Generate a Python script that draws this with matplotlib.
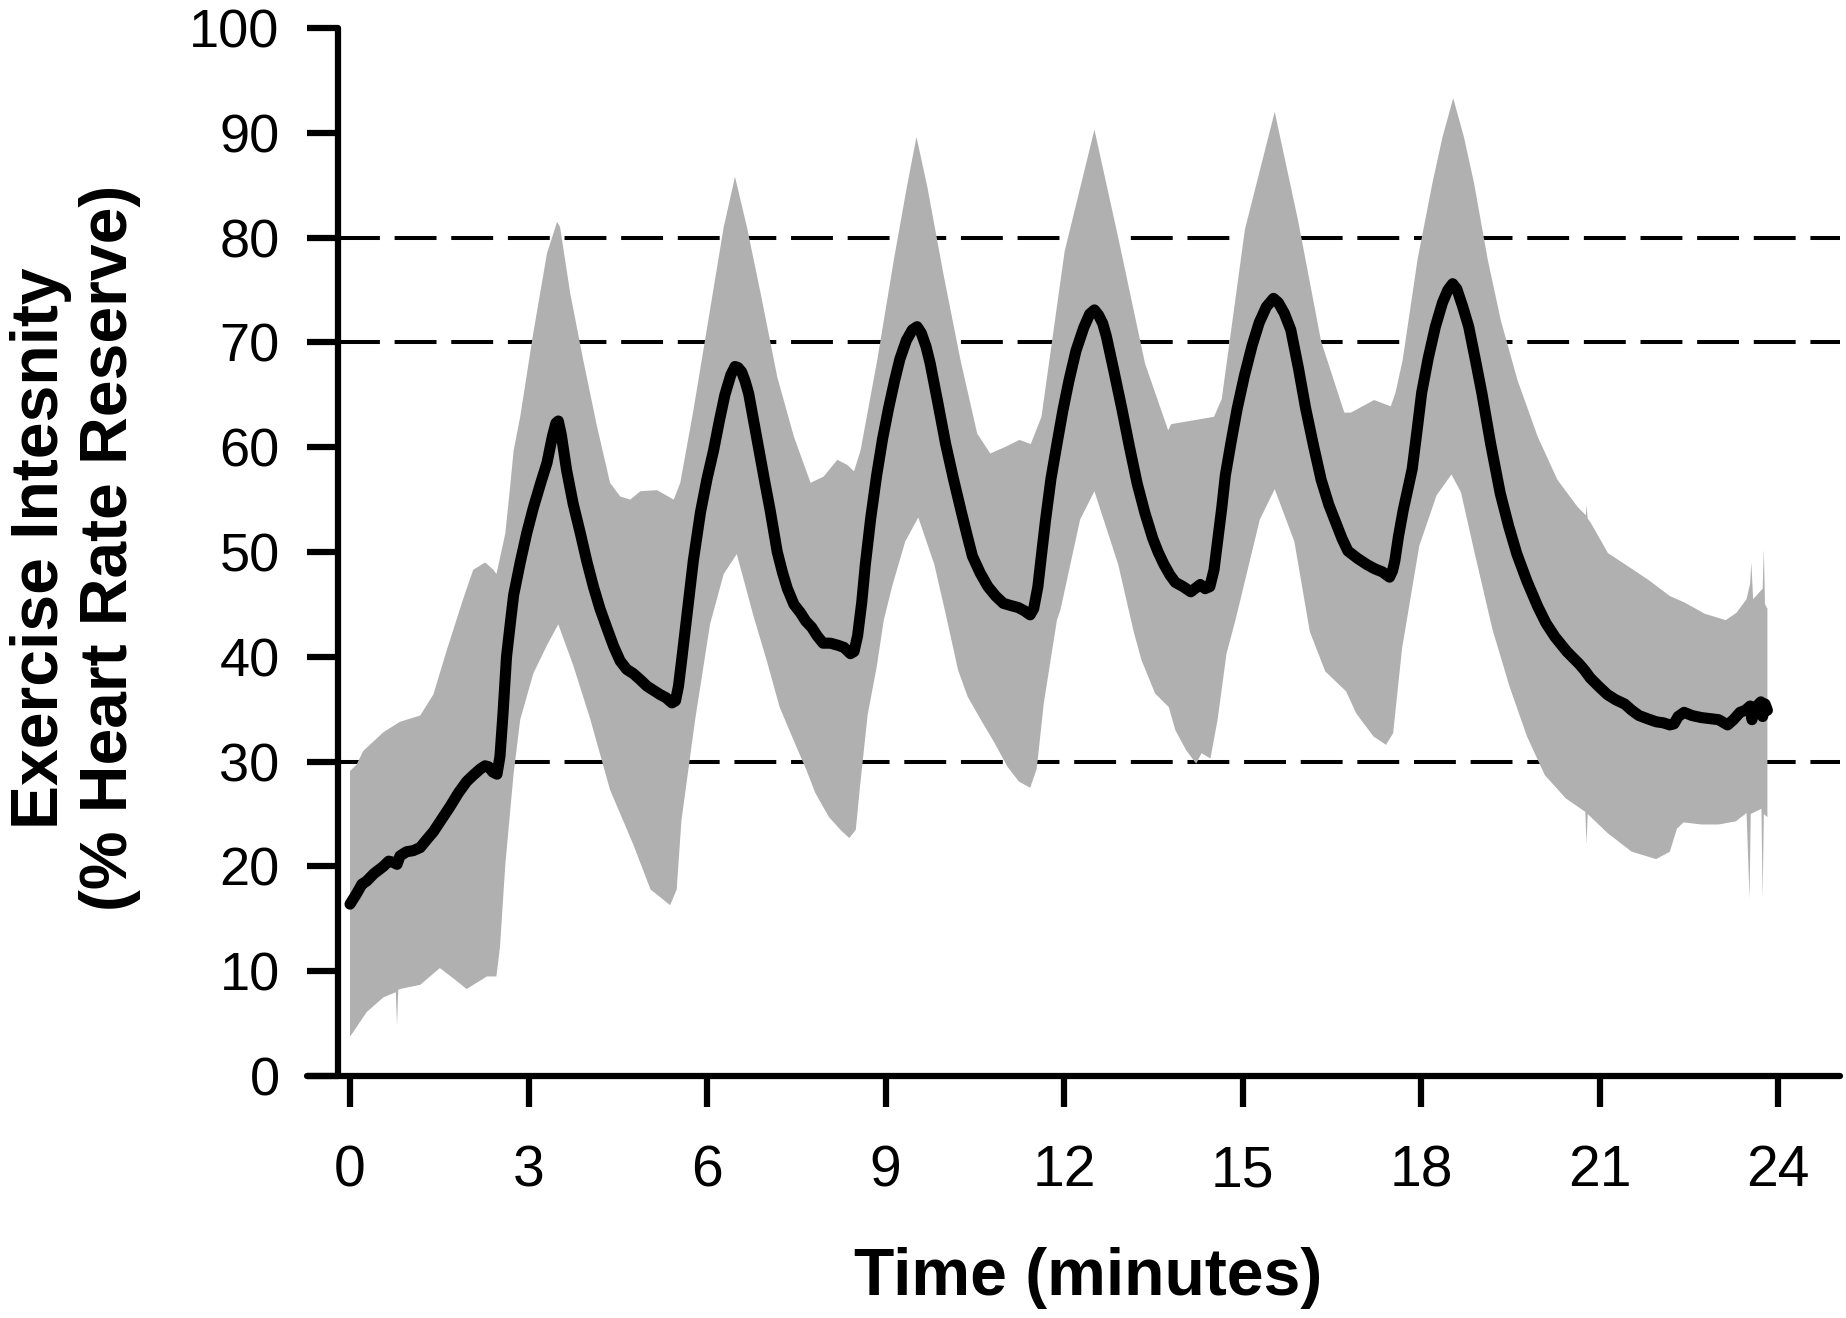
import matplotlib
matplotlib.use('Agg')
import matplotlib.pyplot as plt
import numpy as np

plt.rcParams['font.family'] = ['Liberation Sans', 'DejaVu Sans']

# mean exercise intensity (% HRR) over time (minutes)
mean_t = [0.0, 0.10, 0.20, 0.28, 0.40, 0.56, 0.65, 0.72, 0.79, 0.84, 0.95, 1.06,
          1.18, 1.28, 1.40, 1.54, 1.68, 1.82, 1.96, 2.07, 2.19, 2.27, 2.33, 2.40,
          2.47, 2.52, 2.57, 2.63, 2.70, 2.75, 2.86, 2.97, 3.08, 3.20, 3.31, 3.40,
          3.46, 3.50, 3.55, 3.64, 3.75, 3.87, 3.98, 4.09, 4.20, 4.32, 4.43, 4.54,
          4.65, 4.76, 4.88, 4.99, 5.10, 5.21, 5.31, 5.41, 5.47, 5.52, 5.58, 5.66,
          5.77, 5.89, 6.00, 6.11, 6.21, 6.30, 6.40, 6.47, 6.52, 6.58, 6.64, 6.70,
          6.79, 6.88, 6.97, 7.06, 7.18, 7.27, 7.35, 7.46, 7.57, 7.66, 7.76, 7.85,
          7.95, 8.07, 8.20, 8.30, 8.41, 8.47, 8.53, 8.60, 8.66, 8.75, 8.85, 8.95,
          9.05, 9.15, 9.24, 9.35, 9.45, 9.53, 9.60, 9.68, 9.75, 9.88, 10.01, 10.14,
          10.27, 10.37, 10.46, 10.59, 10.72, 10.85, 10.98, 11.10, 11.23, 11.33,
          11.43, 11.49, 11.56, 11.62, 11.69, 11.78, 11.88, 11.98, 12.08, 12.20,
          12.33, 12.43, 12.51, 12.58, 12.65, 12.71, 12.84, 12.97, 13.10, 13.23,
          13.36, 13.49, 13.58, 13.68, 13.78, 13.87, 14.00, 14.13, 14.22, 14.29,
          14.37, 14.45, 14.52, 14.58, 14.65, 14.71, 14.81, 14.91, 15.03, 15.16,
          15.28, 15.40, 15.52, 15.60, 15.70, 15.81, 15.94, 16.06, 16.19, 16.32,
          16.45, 16.58, 16.67, 16.77, 16.93, 17.09, 17.22, 17.35, 17.47, 17.52,
          17.56, 17.62, 17.70, 17.85, 17.93, 18.01, 18.12, 18.24, 18.36, 18.45,
          18.53, 18.60, 18.70, 18.80, 18.91, 19.02, 19.17, 19.33, 19.47, 19.61,
          19.78, 19.96, 20.10, 20.25, 20.45, 20.66, 20.75, 20.84, 20.98, 21.13,
          21.27, 21.42, 21.54, 21.66, 21.80, 21.95, 22.07, 22.18, 22.25, 22.32,
          22.42, 22.55, 22.71, 22.85, 23.00, 23.15, 23.25, 23.36, 23.45, 23.53,
          23.56, 23.60, 23.66, 23.71, 23.74, 23.78, 23.82]
mean_v = [16.4, 17.3, 18.3, 18.6, 19.3, 20.0, 20.5, 20.4, 20.2, 21.0, 21.4, 21.5,
          21.8, 22.5, 23.3, 24.5, 25.7, 27.0, 28.1, 28.7, 29.3, 29.6, 29.5, 29.0,
          28.8, 30.5, 34.5, 40.0, 43.5, 45.9, 49.0, 51.8, 54.2, 56.5, 58.5, 61.0,
          62.3, 62.5, 61.2, 57.8, 54.6, 51.8, 49.1, 46.7, 44.6, 42.7, 41.0, 39.6,
          38.8, 38.4, 37.8, 37.2, 36.8, 36.4, 36.1, 35.6, 35.8, 37.2, 40.0, 43.9,
          49.2, 53.8, 57.0, 59.7, 62.6, 65.0, 66.9, 67.7, 67.6, 67.2, 66.3, 65.1,
          62.3, 59.5, 56.7, 54.0, 50.0, 48.0, 46.5, 45.0, 44.2, 43.4, 42.8, 42.0,
          41.3, 41.3, 41.1, 40.9, 40.3, 40.5, 42.0, 45.2, 48.8, 53.2, 57.3, 60.8,
          63.7, 66.3, 68.4, 70.2, 71.2, 71.5, 70.9, 69.6, 68.0, 64.2, 60.3, 57.0,
          53.9, 51.6, 49.6, 48.0, 46.7, 45.8, 45.1, 44.9, 44.7, 44.4,
          44.0, 44.6, 46.7, 49.7, 53.1, 57.0, 60.3, 63.5, 66.3, 69.2,
          71.4, 72.7, 73.1, 72.6, 71.8, 70.6, 67.2, 63.7, 60.0, 56.5,
          53.7, 51.3, 50.0, 48.8, 47.8, 47.1, 46.7, 46.2, 46.6, 46.9,
          46.5, 46.7, 48.3, 51.0, 54.2, 57.3, 60.6, 63.7, 66.8, 69.7,
          71.9, 73.4, 74.2, 73.8, 72.8, 71.2, 67.5, 63.7, 60.2, 56.9,
          54.5, 52.6, 51.3, 50.1, 49.4, 48.8, 48.4, 48.1, 47.6, 48.2,
          49.2, 51.5, 54.0, 57.9, 61.5, 65.2, 68.5, 71.5, 73.8, 75.0,
          75.6, 75.1, 73.4, 71.5, 68.4, 65.2, 60.3, 55.6, 52.5, 49.8,
          47.2, 44.8, 43.2, 41.9, 40.5, 39.3, 38.7, 38.0, 37.2, 36.4,
          35.9, 35.5, 34.9, 34.4, 34.1, 33.8, 33.7, 33.5, 33.6, 34.3,
          34.7, 34.4, 34.2, 34.1, 34.0, 33.5, 34.0, 34.7, 34.9, 35.3,
          34.0, 35.0, 35.4, 35.7, 34.3, 35.5, 34.9]

# upper edge of the grey band
upper_t = [0.0, 0.11, 0.22, 0.56, 0.84, 1.18, 1.40, 1.63, 1.90, 2.07, 2.27, 2.41,
           2.46, 2.55, 2.61, 2.69, 2.75, 2.86, 3.08, 3.31, 3.48, 3.53, 3.70, 3.92,
           4.15, 4.37, 4.54, 4.71, 4.88, 5.16, 5.44, 5.55, 5.77, 6.05, 6.28, 6.47,
           6.67, 6.90, 7.18, 7.46, 7.74, 7.96, 8.19, 8.36, 8.47, 8.58, 8.86, 9.14,
           9.36, 9.52, 9.70, 9.98, 10.26, 10.54, 10.76, 11.04, 11.25, 11.44, 11.62,
           12.01, 12.51, 12.91, 13.36, 13.75, 13.80, 14.52, 14.65, 15.04, 15.54,
           15.93, 16.32, 16.71, 16.82, 17.21, 17.49, 17.57, 17.69, 17.94, 18.19,
           18.36, 18.54, 18.72, 18.89, 19.12, 19.34, 19.62, 19.96, 20.29, 20.63,
           20.77, 20.78, 20.80, 20.85, 21.14, 21.54, 21.83, 22.18, 22.42, 22.77,
           23.12, 23.30, 23.47, 23.53, 23.55, 23.58, 23.74, 23.76, 23.78, 23.82]
upper_v = [29.1, 29.7, 31.0, 32.8, 33.8, 34.4, 36.4, 40.7, 45.5, 48.3, 49.0, 48.3,
           47.9, 50.2, 51.8, 56.2, 59.7, 62.9, 70.9, 78.5, 81.5, 81.0, 74.7, 68.3,
           62.0, 56.6, 55.3, 55.0, 55.8, 55.9, 55.0, 56.6, 63.5, 73.1, 81.0, 85.8,
           81.0, 74.7, 66.7, 61.0, 56.6, 57.2, 58.8, 58.3, 57.7, 59.7, 68.3, 77.9,
           84.9, 89.6, 84.9, 76.3, 68.3, 61.3, 59.4, 60.1, 60.7, 60.3, 62.9,
           78.7, 90.3, 80.0, 68.0, 61.6, 62.2, 62.9, 64.6, 80.8, 92.0,
           81.7, 70.1, 63.3, 63.3, 64.5, 63.9, 65.2, 68.3, 77.9, 85.2,
           89.6, 93.3, 89.6, 85.2, 77.9, 72.1, 66.4, 61.0, 56.9, 54.3,
           53.5, 54.5, 53.2, 52.8, 49.9, 48.4, 47.3, 45.8, 45.2, 44.1,
           43.5, 44.2, 45.5, 47.0, 49.0, 45.5, 46.5, 50.3, 45.0, 44.6]

# lower edge of the grey band
lower_t = [0.0, 0.28, 0.56, 0.77, 0.79, 0.81, 0.84, 1.18, 1.51, 1.74, 1.96, 2.30,
           2.46, 2.52, 2.61, 2.75, 2.86, 3.08, 3.31, 3.50, 3.75, 4.04, 4.37, 4.76,
           5.05, 5.38, 5.49, 5.57, 5.80, 6.05, 6.28, 6.50, 6.78, 7.00, 7.22, 7.45,
           7.67, 7.82, 8.05, 8.24, 8.39, 8.50, 8.57, 8.70, 8.85, 8.97, 9.11, 9.33,
           9.55, 9.82, 10.01, 10.22, 10.38, 10.60, 10.83, 11.05, 11.24, 11.43, 11.54,
           11.66, 11.88, 11.94, 12.27, 12.51, 12.91, 13.17, 13.30, 13.53, 13.76,
           13.87, 14.05, 14.22, 14.31, 14.46, 14.58, 14.73, 14.88, 15.29, 15.54,
           15.87, 16.13, 16.39, 16.74, 16.91, 17.20, 17.41, 17.53, 17.68, 17.97,
           18.26, 18.51, 18.67, 18.90, 19.20, 19.49, 19.78, 20.08, 20.43, 20.76,
           20.78, 20.80, 21.13, 21.54, 21.95, 22.18, 22.30, 22.41, 22.71, 23.00,
           23.29, 23.47, 23.52, 23.54, 23.72, 23.74, 23.76, 23.82]
lower_v = [3.75, 6.1, 7.5, 8.0, 4.8, 8.2, 8.3, 8.7, 10.3, 9.3, 8.3, 9.5,
           9.5, 12.3, 20.2, 28.9, 34.0, 38.4, 41.1, 43.1, 39.2, 34.0, 27.3, 22.1,
           17.8, 16.3, 17.8, 24.4, 34.0, 43.1, 47.9, 49.8, 43.9, 39.7, 35.2, 32.1,
           29.2, 27.0, 24.7, 23.5, 22.7, 23.5, 27.6, 34.5, 39.0, 43.5, 46.7, 51.0,
           53.3, 48.8, 44.1, 38.7, 36.2, 34.0, 31.8, 29.5, 28.1, 27.5, 29.3,
           35.6, 43.5, 44.5, 53.1, 55.8, 48.8, 42.4, 39.7, 36.5, 35.2,
           33.0, 31.1, 29.8, 30.8, 30.3, 34.0, 40.3, 43.5, 53.1, 56.0,
           51.0, 42.4, 38.6, 36.7, 34.6, 32.4, 31.6, 32.7, 40.8, 50.6,
           55.4, 57.4, 55.7, 49.9, 42.6, 37.1, 32.4, 28.7, 26.5, 25.2,
           22.1, 25.0, 23.2, 21.4, 20.7, 21.4, 23.6, 24.2, 24.0, 24.0,
           24.3, 25.1, 16.9, 25.0, 25.5, 16.9, 25.0, 24.7]

ref_levels = [30, 70, 80]
x_ticks = [0, 3, 6, 9, 12, 15, 18, 21, 24]
y_ticks = [0, 10, 20, 30, 40, 50, 60, 70, 80, 90, 100]

fig = plt.figure(figsize=(18.46, 13.18), dpi=100)
ax = fig.add_axes([307 / 1846, 242 / 1318, 1533 / 1846, 1048 / 1318])
x_lo, x_hi = -0.723, 25.04
y_axis_x = -0.2

# reference lines sit under the grey band
for lvl in ref_levels:
    ax.plot([y_axis_x, x_hi], [lvl, lvl], color='black', lw=2.9,
            dashes=(10.4, 3.66), zorder=2)

band_t = np.concatenate([upper_t, lower_t[::-1]])
band_v = np.concatenate([upper_v, lower_v[::-1]])
ax.fill(band_t, band_v, color='#b0b0b0', lw=0, zorder=3)

ax.plot(mean_t, mean_v, color='black', lw=8, solid_joinstyle='round',
        solid_capstyle='round', zorder=4)

ax.set_xlim(x_lo, x_hi)
ax.set_ylim(0, 100)
ax.set_xticks(x_ticks)
ax.set_yticks(y_ticks)
for s in ['top', 'right']:
    ax.spines[s].set_visible(False)
ax.spines['left'].set_position(('data', y_axis_x))
for s in ['left', 'bottom']:
    ax.spines[s].set_linewidth(4.5)
    ax.spines[s].set_capstyle('round')
    ax.spines[s].set_zorder(6)

ax.tick_params(axis='both', direction='out', length=22.3, width=4.5, color='black')
ax.tick_params(axis='y', pad=19.8, labelsize=39)
ax.tick_params(axis='x', pad=27, labelsize=41)
ax.patch.set_visible(False)

fig.text(1088 / 1846, 23 / 1318, 'Time (minutes)', ha='center', va='baseline',
         fontsize=47.5, fontweight='bold')
fig.text(75.5 / 1846, (1318 - 548) / 1318, 'Exercise Intesnity\n(% Heart Rate Reserve)',
         rotation=90, ha='center', va='center', multialignment='center',
         fontsize=47.5, fontweight='bold', linespacing=1.15)

fig.savefig('out.png', dpi=100)
